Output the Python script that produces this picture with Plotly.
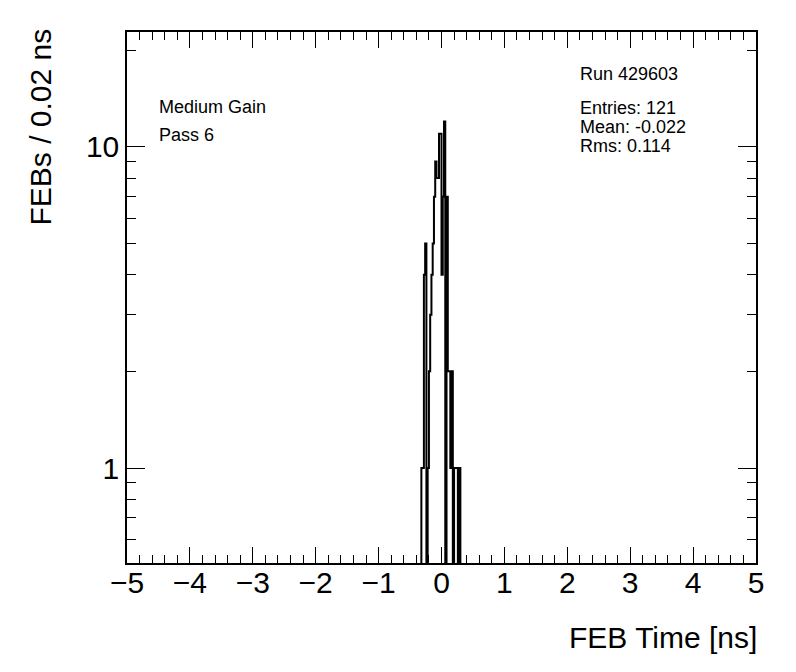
import numpy as np
import plotly.graph_objects as go

# Histogram definition (bin width 0.02 ns), counts
first_edge = -0.32
bin_width = 0.02
counts = [1, 1, 4, 5, 0, 1, 2, 3, 4, 5, 7, 9, 8, 8, 11, 11, 4, 7, 12, 0,
          7, 2, 2, 1, 2, 0, 1, 1, 1, 0, 1]

x_ticks = [-5, -4, -3, -2, -1, 0, 1, 2, 3, 4, 5]
x_ticktext = ["\u22125", "\u22124", "\u22123", "\u22122", "\u22121", "0", "1", "2", "3", "4", "5"]
y_major = [1, 10]
y_minor = [0.6, 0.7, 0.8, 0.9, 2, 3, 4, 5, 6, 7, 8, 9, 20]

labels_left = ["Medium Gain", "Pass 6"]
labels_right = ["Run 429603", "Entries: 121", "Mean: -0.022", "Rms: 0.114"]

edges = first_edge + bin_width * np.arange(len(counts) + 1)
floor = 1e-3  # empty bins drop below the frame on a log axis
vals = [c if c > 0 else floor for c in counts]
xs = [edges[0]] + list(edges[:-1]) + [edges[-1]]
ys = [floor] + vals + [floor]

FONT = "Liberation Sans, Arial, Helvetica, sans-serif"

# page offset of 8px (body margin) is compensated in the margins below
L, T, PW, PH = 119, 24, 629, 531

fig = go.Figure()
fig.add_trace(go.Scatter(x=xs, y=ys, mode="lines", line=dict(color="black", width=2, shape="hv"),
                         hoverinfo="skip", showlegend=False))

fig.update_layout(
    width=788, height=664,
    margin=dict(l=L, r=788 - L - PW, t=T, b=664 - T - PH),
    paper_bgcolor="white", plot_bgcolor="white",
    font=dict(family=FONT, color="black"),
    showlegend=False,
)
fig.update_xaxes(
    range=[-5, 5], tickmode="array", tickvals=x_ticks, ticktext=x_ticktext,
    ticks="inside", ticklen=16, tickwidth=1, tickcolor="black", ticklabelstandoff=-8,
    minor=dict(ticks="inside", ticklen=8, tickwidth=1, tickcolor="black", dtick=0.2, tick0=0, showgrid=False),
    showline=True, linecolor="black", linewidth=1.5, mirror="allticks",
    showgrid=False, zeroline=False, tickfont=dict(size=30, family=FONT),
)
fig.update_yaxes(
    type="log", range=[np.log10(0.506), np.log10(22.8)],
    tickmode="array", tickvals=y_major, ticktext=[str(v) for v in y_major],
    ticks="inside", ticklen=18, tickwidth=1, tickcolor="black",
    minor=dict(ticks="inside", ticklen=9, tickwidth=1, tickcolor="black", tickmode="array",
               tickvals=y_minor, showgrid=False),
    showline=True, linecolor="black", linewidth=1.5, mirror="allticks",
    showgrid=False, zeroline=False, tickfont=dict(size=30, family=FONT),
)

def px(xp):
    return (xp - 8 - L) / PW

def py(yp):
    return (T + PH - (yp - 8)) / PH

annotations = [
    dict(text="FEB Time [ns]", xref="paper", yref="paper", x=px(759), y=py(637), xanchor="right", yanchor="middle",
         showarrow=False, font=dict(size=30, family=FONT)),
    dict(text="FEBs / 0.02 ns", xref="paper", yref="paper", x=px(40), y=py(27), xanchor="center", yanchor="top",
         textangle=-90, showarrow=False, font=dict(size=30, family=FONT)),
]
left_y = [107, 135]
for t, yy in zip(labels_left, left_y):
    annotations.append(dict(text=t, xref="paper", yref="paper", x=px(157), y=py(yy),
                            xanchor="left", yanchor="middle", showarrow=False, font=dict(size=18, family=FONT)))
right_y = [74, 108, 127, 146]
for t, yy in zip(labels_right, right_y):
    annotations.append(dict(text=t, xref="paper", yref="paper", x=px(578), y=py(yy),
                            xanchor="left", yanchor="middle", showarrow=False, font=dict(size=18, family=FONT)))
fig.update_layout(annotations=annotations)

fig.write_html("out.html")
